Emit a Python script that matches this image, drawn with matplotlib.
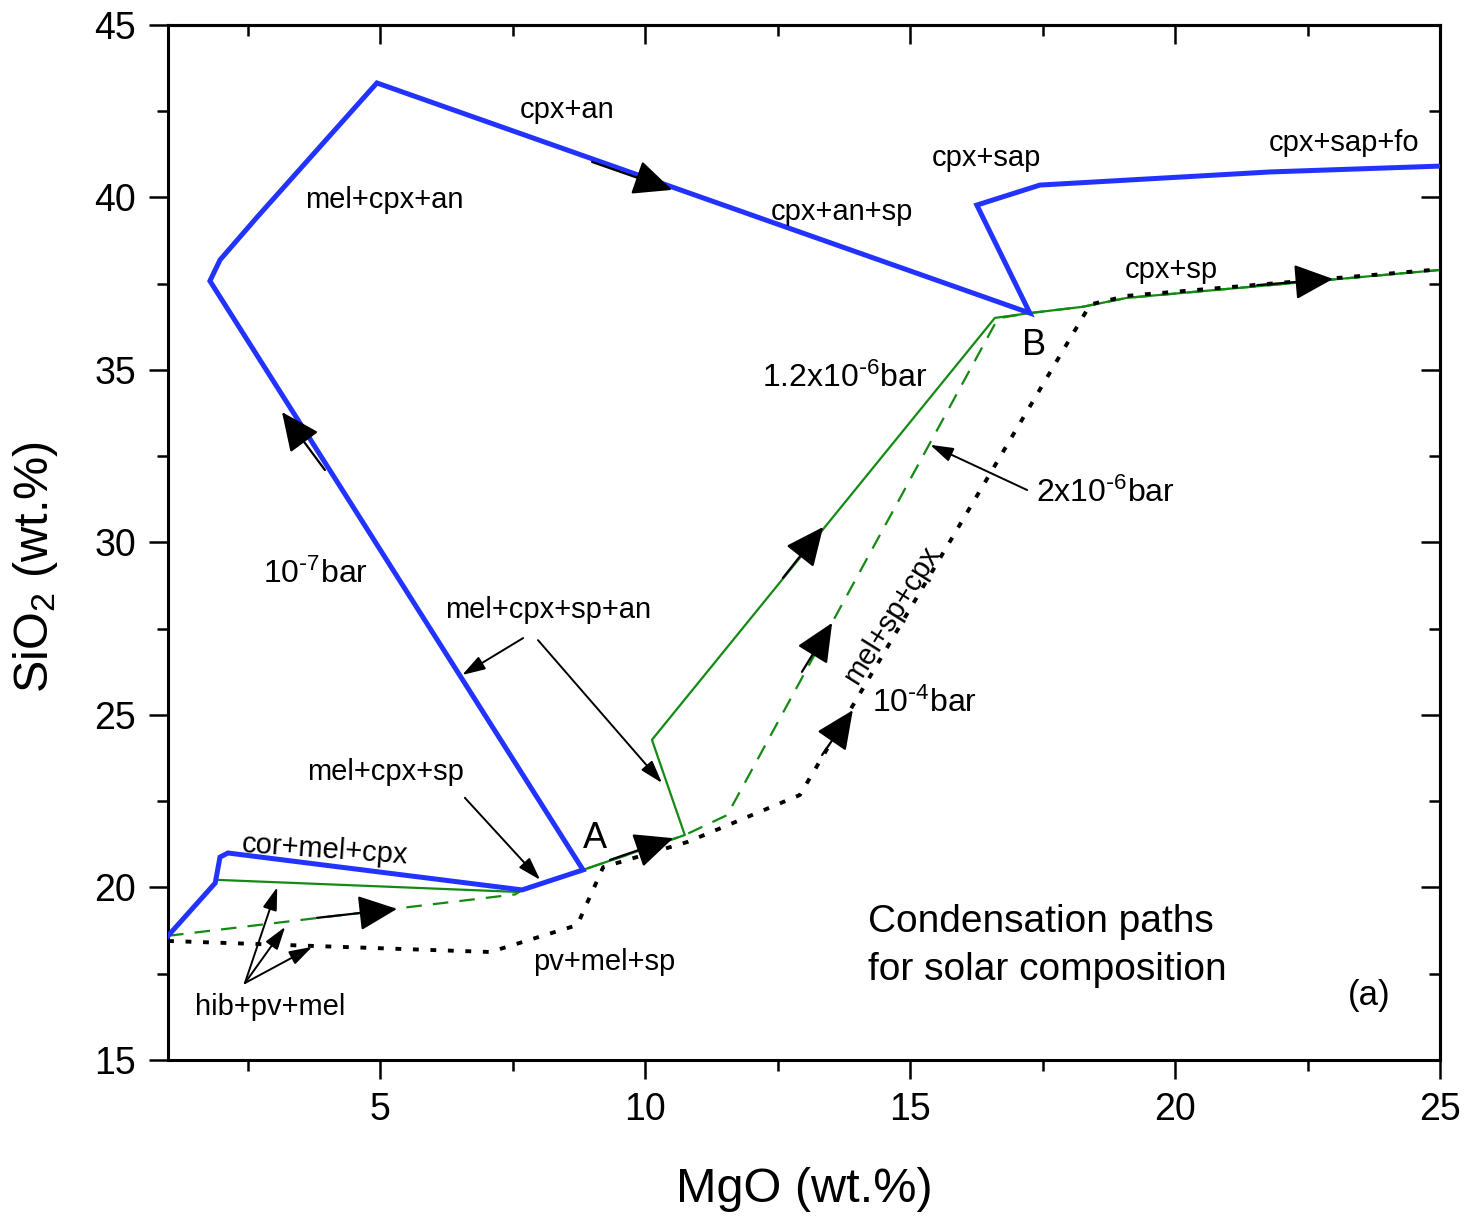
import numpy as np
import matplotlib
matplotlib.use("Agg")
import matplotlib.pyplot as plt
from matplotlib.ticker import MultipleLocator

plt.rcParams['font.family'] = ['Liberation Sans', 'DejaVu Sans']
plt.rcParams['mathtext.default'] = 'regular'

# condensation paths, MgO vs SiO2 (wt.%)
p7_mgo = [1.0, 1.89, 1.98, 2.13, 7.68, 8.83, 1.79, 1.98, 2.68, 4.94, 17.26, 16.26, 17.45, 21.79, 25.0]
p7_sio2 = [18.6, 20.13, 20.88, 21.0, 19.93, 20.51, 37.58, 38.19, 39.43, 43.32, 36.65, 39.78, 40.36, 40.74, 40.91]

p12_mgo = [1.0, 1.94, 7.62, 7.68, 8.83, 10.75, 10.13, 16.6, 17.26, 18.25, 19.09, 25.0]
p12_sio2 = [18.6, 20.22, 19.87, 19.93, 20.51, 21.52, 24.28, 36.51, 36.65, 36.83, 37.09, 37.9]

p2_mgo = [1.0, 7.55, 7.68, 8.83, 10.75, 11.55, 16.66, 17.26, 18.25, 19.09, 25.0]
p2_sio2 = [18.6, 19.8, 19.93, 20.51, 21.52, 22.10, 36.5, 36.65, 36.83, 37.09, 37.9]

p4_mgo = [1.0, 7.08, 8.72, 9.21, 10.8, 11.66, 12.92, 18.4, 19.1, 25.0]
p4_sio2 = [18.45, 18.13, 18.91, 20.59, 21.32, 21.87, 22.68, 36.9, 37.15, 37.92]

# direction arrows along the paths: (tail, head)
flow_arrows = [
    ((9.0, 41.03), (10.51, 40.22)),
    ((3.96, 32.10), (3.15, 33.78)),
    ((3.81, 19.12), (5.32, 19.38)),
    ((9.34, 20.80), (10.53, 21.43)),
    ((12.60, 28.97), (13.36, 30.45)),
    ((12.96, 26.25), (13.53, 27.67)),
    ((13.34, 23.84), (13.92, 25.14)),
    ((21.55, 37.46), (22.98, 37.64)),
]

# pointer arrows from labels
label_arrows = [
    ((7.70, 27.23), (6.55, 26.16)),
    ((7.98, 27.17), (10.32, 23.03)),
    ((6.60, 22.60), (8.02, 20.22)),
    ((2.45, 17.23), (3.06, 20.01)),
    ((2.45, 17.23), (3.21, 18.86)),
    ((2.45, 17.23), (3.72, 18.28)),
    ((17.21, 31.52), (15.38, 32.83)),
]

labels = [
    ("cpx+an", 8.53, 42.54, 0),
    ("mel+cpx+an", 5.09, 39.93, 0),
    ("cpx+an+sp", 13.72, 39.58, 0),
    ("cpx+sap", 16.45, 41.14, 0),
    ("cpx+sap+fo", 23.19, 41.58, 0),
    ("cpx+sp", 19.92, 37.90, 0),
    ("mel+cpx+sp+an", 8.17, 28.04, 0),
    ("mel+sp+cpx", 14.66, 27.90, 58),
    ("mel+cpx+sp", 5.11, 23.35, 0),
    ("cor+mel+cpx", 3.96, 21.09, -4),
    ("pv+mel+sp", 9.23, 17.84, 0),
    ("hib+pv+mel", 2.92, 16.54, 0),
]

pressure_labels = [
    (r"10$^{\text{-}7}$bar", 3.79, 29.09),
    (r"1.2x10$^{\text{-}6}$bar", 13.77, 34.77),
    (r"2x10$^{\text{-}6}$bar", 18.68, 31.41),
    (r"10$^{\text{-}4}$bar", 15.28, 25.35),
]

blue = '#2233ff'
green = '#138a13'

fig = plt.figure(figsize=(14.69, 12.25), dpi=100)
ax = fig.add_axes([0.1144, 0.1347, 0.8659, 0.8449])

ax.plot(p12_mgo, p12_sio2, color=green, lw=1.6, zorder=2)
ax.plot(p2_mgo, p2_sio2, color=green, lw=1.6, ls=(0, (7, 5)), zorder=2)
ax.plot(p4_mgo, p4_sio2, color='black', lw=2.8, ls=(0, (1.5, 3.0)), zorder=2)
ax.plot(p7_mgo, p7_sio2, color=blue, lw=3.6, solid_joinstyle='miter', zorder=3)

for (x0, y0), (x1, y1) in flow_arrows:
    ax.annotate("", xy=(x1, y1), xytext=(x0, y0),
                arrowprops=dict(arrowstyle='-|>,head_length=1.1,head_width=0.5',
                                color='black', lw=1.6, mutation_scale=22,
                                shrinkA=0, shrinkB=0), zorder=5)

for (x0, y0), (x1, y1) in label_arrows:
    ax.annotate("", xy=(x1, y1), xytext=(x0, y0),
                arrowprops=dict(arrowstyle='-|>,head_length=0.7,head_width=0.22',
                                color='black', lw=1.4, mutation_scale=20,
                                shrinkA=0, shrinkB=0), zorder=5)

for txt, x, y, rot in labels:
    ax.text(x, y, txt, fontsize=21, ha='center', va='center', rotation=rot, zorder=6)

for txt, x, y in pressure_labels:
    ax.text(x, y, txt, fontsize=23, ha='center', va='center', zorder=6)

ax.text(9.06, 21.43, "A", fontsize=26, ha='center', va='center')
ax.text(17.34, 35.72, "B", fontsize=26, ha='center', va='center')
ax.text(14.2, 19.0, "Condensation paths", fontsize=28, ha='left', va='center')
ax.text(14.2, 17.61, "for solar composition", fontsize=28, ha='left', va='center')
ax.text(23.66, 16.86, "(a)", fontsize=25, ha='center', va='center')

ax.set_xlim(1, 25)
ax.set_ylim(15, 45)
ax.xaxis.set_major_locator(MultipleLocator(5))
ax.xaxis.set_minor_locator(MultipleLocator(2.5))
ax.yaxis.set_major_locator(MultipleLocator(5))
ax.yaxis.set_minor_locator(MultipleLocator(2.5))
ax.tick_params(which='major', direction='out', length=14, width=1.8, labelsize=27, pad=9)
ax.tick_params(which='minor', direction='out', length=8, width=1.8)

# inward ticks on top and right
top = ax.secondary_xaxis('top')
top.xaxis.set_major_locator(MultipleLocator(5))
top.xaxis.set_minor_locator(MultipleLocator(2.5))
top.tick_params(which='major', direction='in', length=14, width=1.8, labeltop=False)
top.tick_params(which='minor', direction='in', length=8, width=1.8)
right = ax.secondary_yaxis('right')
right.yaxis.set_major_locator(MultipleLocator(5))
right.yaxis.set_minor_locator(MultipleLocator(2.5))
right.tick_params(which='major', direction='in', length=14, width=1.8, labelright=False)
right.tick_params(which='minor', direction='in', length=8, width=1.8)

for sp in list(ax.spines.values()) + [top.spines['top'], right.spines['right']]:
    sp.set_linewidth(2.2)

ax.set_xlabel("MgO (wt.%)", fontsize=35, labelpad=28)
ax.set_ylabel("SiO$_2$ (wt.%)", fontsize=35)
ax.yaxis.set_label_coords(-0.085, 0.476)

fig.savefig("out.png", dpi=100)
